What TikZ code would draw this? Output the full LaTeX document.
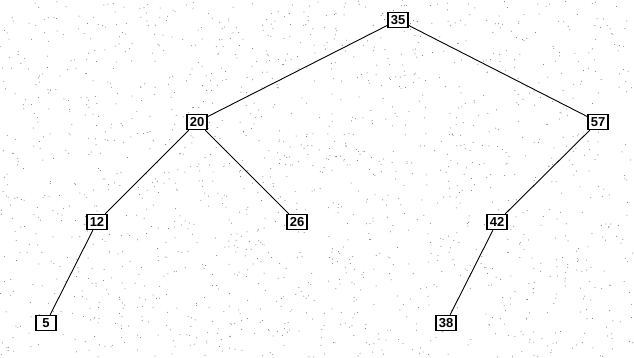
\documentclass[tikz,border=0pt]{standalone}
\usepackage{fontspec}
\setsansfont{Liberation Sans}
\begin{document}
\begin{tikzpicture}[x=1pt,y=-1pt,
  key/.style={draw=black,line width=1.4pt,fill=white,inner sep=0pt,minimum width=20pt,minimum height=15pt,font=\sffamily\bfseries\fontsize{13}{13}\selectfont},
  edge/.style={draw=black,line width=0.9pt}]
\useasboundingbox (0,0) rectangle (634,357);
\fill[white] (0,0) rectangle (634,357);
\pgfmathsetseed{7}
\foreach \i in {1,...,1600}{
  \pgfmathsetmacro{\px}{rnd*634}
  \pgfmathsetmacro{\py}{rnd*357}
  \fill[black!55] (\px,\py) circle (0.5pt);
}
\node[key] (n35) at (398,20) {35};
\node[key] (n20) at (197,122) {20};
\node[key] (n57) at (598,122) {57};
\node[key] (n12) at (97,222) {12};
\node[key] (n26) at (297,222) {26};
\node[key] (n42) at (497,222) {42};
\node[key] (n5) at (46,323) {5};
\node[key] (n38) at (446,323) {38};
\draw[edge] (n35) -- (n20);
\draw[edge] (n35) -- (n57);
\draw[edge] (n20) -- (n12);
\draw[edge] (n20) -- (n26);
\draw[edge] (n57) -- (n42);
\draw[edge] (n12) -- (n5);
\draw[edge] (n42) -- (n38);
\end{tikzpicture}
\end{document}
